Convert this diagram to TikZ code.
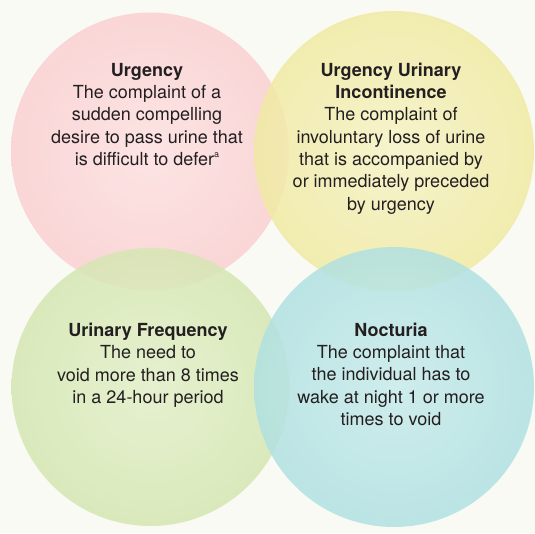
\documentclass[tikz,border=0pt]{standalone}
\usepackage{fontspec}
\setmainfont{TeX Gyre Heros}
\definecolor{bgc}{RGB}{249,250,244}
\definecolor{txt}{RGB}{35,31,32}
\pgfdeclareradialshading{pinkshade}{\pgfpoint{0bp}{0bp}}{rgb(0bp)=(0.992,0.894,0.894); rgb(50bp)=(0.965,0.780,0.784); rgb(100bp)=(0.965,0.780,0.784)}
\pgfdeclareradialshading{yellowshade}{\pgfpoint{0bp}{0bp}}{rgb(0bp)=(0.965,0.953,0.780); rgb(50bp)=(0.918,0.882,0.490); rgb(100bp)=(0.918,0.882,0.490)}
\pgfdeclareradialshading{greenshade}{\pgfpoint{0bp}{0bp}}{rgb(0bp)=(0.890,0.937,0.788); rgb(50bp)=(0.780,0.875,0.612); rgb(100bp)=(0.780,0.875,0.612)}
\pgfdeclareradialshading{blueshade}{\pgfpoint{0bp}{0bp}}{rgb(0bp)=(0.784,0.922,0.925); rgb(50bp)=(0.600,0.839,0.843); rgb(100bp)=(0.600,0.839,0.843)}
\tikzset{
  blob/.style={circle, draw=none, inner sep=0pt, minimum size=278pt, shade, shading=#1},
  label/.style={anchor=base, align=center, inner sep=0pt, text=txt,
    font=\fontsize{18}{22.3}\selectfont},
}
\begin{document}
\begin{tikzpicture}[x=1pt,y=-1pt]
\useasboundingbox (0,0) rectangle (535,533);
\clip (0,0) rectangle (535,533);
\fill[bgc] (0,0) rectangle (535,533);
\node[blob=pinkshade] (pink) at (150,151.5) {};
\node[blob=yellowshade, opacity=0.85, minimum size=280pt] (yellow) at (394,151) {};
\node[blob=greenshade, opacity=0.85] (green) at (150.5,387) {};
\node[blob=blueshade, opacity=0.85, minimum size=280pt] (blue) at (394,387) {};
\node[label] (urg) at (147,165.5) {\textbf{Urgency}\\The complaint of a\\sudden compelling\\desire to pass urine that\\is difficult to defer\raisebox{0.42em}{\fontsize{9}{9}\selectfont a}};
\node[label] (uui) at (391,210) {\textbf{Urgency Urinary}\\\textbf{Incontinence}\\The complaint of\\involuntary loss of urine\\that is accompanied by\\or immediately preceded\\by urgency};
\node[label] (freq) at (148,403.5) {\textbf{Urinary Frequency}\\The need to\\void more than 8 times\\in a 24-hour period};
\node[label] (noct) at (391,425.5) {\textbf{Nocturia}\\The complaint that\\the individual has to\\wake at night 1 or more\\times to void};
\end{tikzpicture}
\end{document}
